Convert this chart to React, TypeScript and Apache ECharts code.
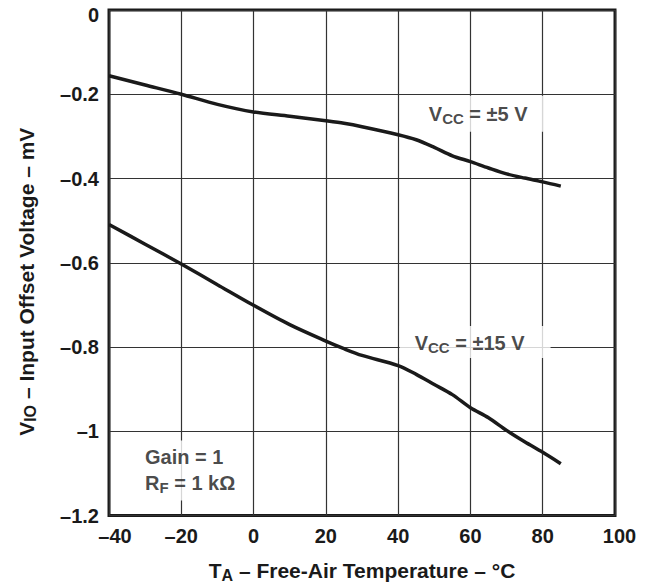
import React, { useEffect, useRef } from "react";
import * as echarts from "echarts";

const temps = [-40, -30, -20, -10, 0, 10, 20, 25, 30, 40, 45, 50, 55, 60, 65, 70, 75, 80, 85];
const vcc5 = [-0.156, -0.178, -0.2, -0.224, -0.242, -0.252, -0.263, -0.269, -0.277, -0.296, -0.308, -0.326, -0.346, -0.36, -0.375, -0.389, -0.399, -0.408, -0.418];
const vcc15 = [-0.509, -0.556, -0.603, -0.652, -0.701, -0.747, -0.786, -0.804, -0.82, -0.844, -0.865, -0.889, -0.913, -0.944, -0.968, -0.998, -1.025, -1.05, -1.077];

const xMin = -40, xMax = 100, xStep = 20;
const yMin = -1.2, yMax = 0, yStep = 0.2;

const label5Pos = [62.7, -0.246];
const label15Pos = [61.3, -0.788];
const noteLeftPos = [-32.8, -1.093];

const FONT = "'Liberation Sans', Arial, Helvetica, sans-serif";
const INK = "#1a1a1a";

const fmtNum = (v: number) => {
  const r = Math.round(v * 10) / 10;
  return r < 0 ? "\u2013" + String(Math.abs(r)) : String(r);
};

const tickRich = {
  top: { padding: [10, 0, 0, 0] },
  l: { padding: [0, 0, 0, 12] },
  r: { padding: [0, 0, 0, 9] },
};

const rich = {
  v: { fontSize: 20, fontWeight: "bold", fontFamily: FONT, color: INK, lineHeight: 24 },
  s: { fontSize: 15, fontWeight: "bold", fontFamily: FONT, color: INK, lineHeight: 24, padding: [9, 0, 0, 0] },
};

const titleRich = {
  v: { fontSize: 21, fontWeight: "bold", fontFamily: FONT, color: INK, lineHeight: 26 },
  s: { fontSize: 16, fontWeight: "bold", fontFamily: FONT, color: INK, lineHeight: 26, padding: [9, 0, 0, 0] },
};

const tickStyle = {
  fontSize: 20,
  fontWeight: "bold",
  fontFamily: FONT,
  color: INK,
  margin: 10,
};

export default function App() {
  const ref = useRef<HTMLDivElement>(null);
  useEffect(() => {
    if (!ref.current) return;
    const chart = echarts.init(ref.current, undefined, { renderer: "svg" });
    chart.setOption({
      animation: false,
      backgroundColor: "#fff",
      grid: {
        left: 109,
        right: 33,
        top: 10,
        bottom: 71,
        show: true,
        borderColor: INK,
        borderWidth: 3,
        backgroundColor: "transparent",
      },
      xAxis: {
        type: "value",
        min: xMin,
        max: xMax,
        interval: xStep,
        axisLine: { show: false },
        axisTick: { show: false },
        splitLine: { show: true, lineStyle: { color: "#333", width: 1.2 } },
        axisLabel: {
          ...tickStyle,
          formatter: (v: number) => {
            const s = fmtNum(v);
            if (v === xMin) return "{l|" + s + "}";
            if (v === xMax) return "{r|" + s + "}";
            return s;
          },
          rich: tickRich,
        },
        name: "{v|T}{s|A}{v| \u2013 Free-Air Temperature \u2013 \u00B0C}",
        nameLocation: "middle",
        nameGap: 42,
        nameTextStyle: { rich: titleRich },
      },
      yAxis: {
        type: "value",
        min: yMin,
        max: yMax,
        interval: yStep,
        axisLine: { show: false },
        axisTick: { show: false },
        splitLine: { show: true, lineStyle: { color: "#333", width: 1.2 } },
        axisLabel: {
          ...tickStyle,
          formatter: (v: number) => {
            const s = fmtNum(v);
            if (Math.abs(v - yMax) < 1e-9) return "{top|" + s + "}";
            return s;
          },
          rich: tickRich,
        },
        name: "{v|V}{s|IO}{v| \u2013 Input Offset Voltage \u2013 mV}",
        nameLocation: "middle",
        nameRotate: 90,
        nameGap: 70,
        nameTextStyle: { rich: titleRich, padding: [0, 38, 0, 0] },
      },
      series: [
        {
          type: "line",
          data: temps.map((t, i) => [t, vcc5[i]]),
          showSymbol: false,
          smooth: 0.3,
          lineStyle: { color: INK, width: 3.5 },
          z: 3,
        },
        {
          type: "line",
          data: temps.map((t, i) => [t, vcc15[i]]),
          showSymbol: false,
          smooth: 0.3,
          lineStyle: { color: INK, width: 3.5 },
          z: 3,
        },
        {
          type: "scatter",
          symbolSize: 0,
          silent: true,
          z: 5,
          data: [
            {
              value: label5Pos,
              label: {
                show: true,
                position: "inside",
                formatter: "{v|V}{s|CC}{v| = \u00B15 V}",
                backgroundColor: "#fff",
                padding: [6, 16, 6, 12],
                rich,
              },
            },
            {
              value: label15Pos,
              label: {
                show: true,
                position: "inside",
                formatter: "{v|V}{s|CC}{v| = \u00B115 V}",
                backgroundColor: "#fff",
                padding: [5, 26, 3, 15],
                rich,
              },
            },
            {
              value: noteLeftPos,
              label: {
                show: true,
                position: "right",
                distance: 0,
                align: "left",
                formatter: "{v|Gain = 1}\n{v|R}{s|F}{v| = 1 k\u03A9}",
                backgroundColor: "#fff",
                padding: [4, 16, 4, 10],
                rich: {
                  v: { ...rich.v, lineHeight: 26 },
                  s: { ...rich.s, lineHeight: 26 },
                },
              },
            },
          ],
        },
      ],
    });
    return () => chart.dispose();
  }, []);
  return (
    <div
      ref={ref}
      style={{ position: "fixed", left: 0, top: 0, width: 648, height: 588, background: "#fff" }}
    />
  );
}
